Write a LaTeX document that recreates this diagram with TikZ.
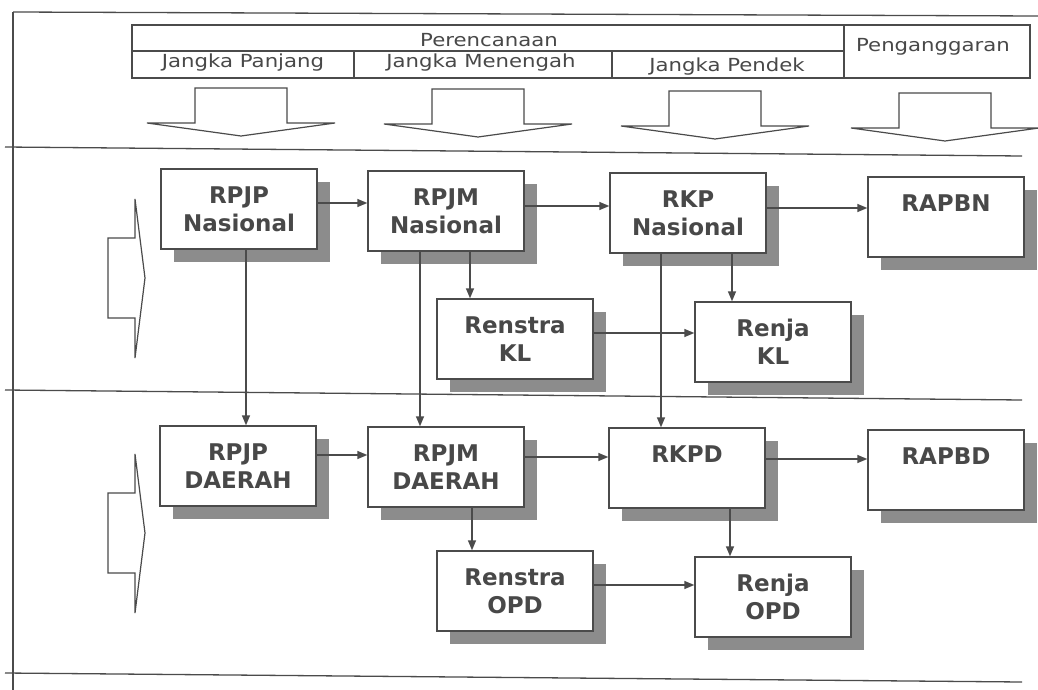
\documentclass[tikz,border=0pt]{standalone}
\usepackage{fontspec}
\setmainfont{DejaVu Sans}
\newfontfamily\hdrfont[FakeStretch=1.18]{DejaVu Sans}
\usetikzlibrary{shadows,arrows.meta}
\definecolor{ink}{RGB}{75,75,75}
\definecolor{txt}{RGB}{72,72,72}
\definecolor{shade}{RGB}{140,140,140}
\begin{document}
\begin{tikzpicture}[x=1pt,y=-1pt,
  box/.style={draw=ink, line width=1.4pt, fill=white, minimum width=156pt, minimum height=80pt,
    inner sep=0pt, align=center, text=txt, font=\bfseries\fontsize{23}{28}\selectfont,
    drop shadow={shadow xshift=13pt, shadow yshift=-13pt, fill=shade, opacity=1}},
  conn/.style={draw=ink, line width=1.4pt, -{Triangle[length=10pt,width=8pt]}},
  rule/.style={draw=ink, line width=1.3pt},
  blk/.style={draw=ink, line width=1.2pt},
  hdr/.style={font=\hdrfont\fontsize{18}{18}\selectfont, text=txt, inner sep=0pt, anchor=base},
  darr/.pic={\draw[blk] (-46,0) -- (46,0) -- (46,35) -- (94,35) -- (0,48) -- (-94,35) -- (-46,35) -- cycle;},
  rarr/.pic={\draw[blk] (0,-40) -- (-27,-40) -- (-27,40) -- (0,40) -- (0,80) -- (10,0) -- (0,-79) -- cycle;}]
\fill[white] (0,0) rectangle (1038,690);
\useasboundingbox (0,0) rectangle (1038,690);
% frame lines
\draw[rule] (13,12) -- (1038,16);
\draw[rule] (13,12) -- (13,690);
\draw[rule] (5,147) -- (1022,156);
\draw[rule] (5,390) -- (1022,400);
\draw[rule] (5,673) -- (1022,682);
% header table
\draw[rule] (132,25) rectangle (1030,78);
\draw[rule] (132,51) -- (844,51);
\draw[rule] (354,51) -- (354,78);
\draw[rule] (612,51) -- (612,78);
\draw[rule] (844,25) -- (844,78);
\node[hdr] (pr) at (489,47) {Perencanaan};
\node[hdr] (pg) at (933,52) {Penganggaran};
\node[hdr] (jp) at (243,68) {Jangka Panjang};
\node[hdr] (jm) at (481,68) {Jangka Menengah};
\node[hdr] (jd) at (727,72) {Jangka Pendek};
% block arrows
\pic at (241,88) {darr};
\pic at (478,89) {darr};
\pic at (715,91) {darr};
\pic at (945,93) {darr};
\pic at (135,278) {rarr};
\pic at (135,533) {rarr};
% boxes
\node[box] (rpjpn) at (239,209) {RPJP\\Nasional};
\node[box] (rpjmn) at (446,211) {RPJM\\Nasional};
\node[box] (rkpn) at (688,213) {RKP\\Nasional};
\node[box] (rapbn) at (946,217) {RAPBN\\\phantom{Nasional}};
\node[box] (renstrakl) at (515,339) {Renstra\\KL};
\node[box] (renjakl) at (773,342) {Renja\\KL};
\node[box] (rpjpd) at (238,466) {RPJP\\DAERAH};
\node[box] (rpjmd) at (446,467) {RPJM\\DAERAH};
\node[box] (rkpd) at (687,468) {RKPD\\\phantom{Nasional}};
\node[box] (rapbd) at (946,470) {RAPBD\\\phantom{Nasional}};
\node[box] (renstraopd) at (515,591) {Renstra\\OPD};
\node[box] (renjaopd) at (773,597) {Renja\\OPD};
% connectors
\draw[conn] ([yshift=6pt]rpjpn.east) -- ([yshift=8pt]rpjmn.west);
\draw[conn] ([yshift=5pt]rpjmn.east) -- ([yshift=7pt]rkpn.west);
\draw[conn] ([yshift=5pt]rkpn.east) -- ([yshift=9pt]rapbn.west);
\draw[conn] ([xshift=24pt]rpjmn.south) -- ([xshift=-45pt]renstrakl.north);
\draw[conn] ([xshift=44pt]rkpn.south) -- ([xshift=-41pt]renjakl.north);
\draw[conn] ([yshift=6pt]renstrakl.east) -- ([yshift=9pt]renjakl.west);
\draw[conn] ([xshift=7pt]rpjpn.south) -- ([xshift=8pt]rpjpd.north);
\draw[conn] ([xshift=-26pt]rpjmn.south) -- ([xshift=-26pt]rpjmd.north);
\draw[conn] ([xshift=-27pt]rkpn.south) -- ([xshift=-26pt]rkpd.north);
\draw[conn] ([yshift=11pt]rpjpd.east) -- ([yshift=12pt]rpjmd.west);
\draw[conn] ([yshift=10pt]rpjmd.east) -- ([yshift=11pt]rkpd.west);
\draw[conn] ([yshift=9pt]rkpd.east) -- ([yshift=11pt]rapbd.west);
\draw[conn] ([xshift=26pt]rpjmd.south) -- ([xshift=-43pt]renstraopd.north);
\draw[conn] ([xshift=43pt]rkpd.south) -- ([xshift=-43pt]renjaopd.north);
\draw[conn] ([yshift=6pt]renstraopd.east) -- ([yshift=12pt]renjaopd.west);
\end{tikzpicture}
\end{document}
